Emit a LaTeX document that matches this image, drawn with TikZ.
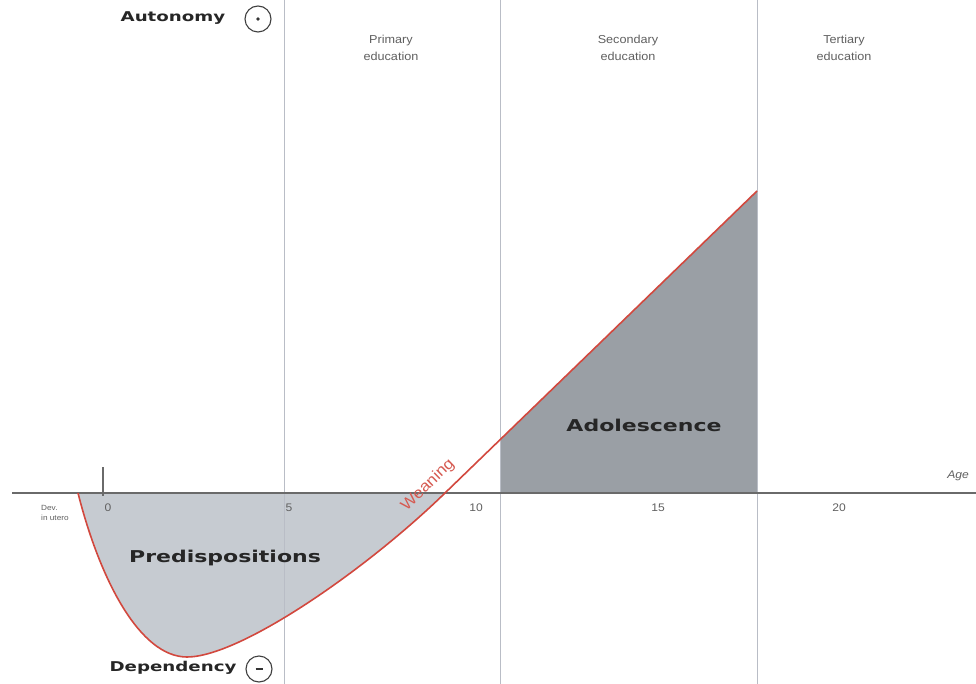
\documentclass[tikz,border=0pt]{standalone}
\usepackage{fontspec}
\setmainfont{Liberation Sans}
\newfontfamily\widefont[FakeStretch=1.35]{DejaVu Sans}
\newfontfamily\labfont[FakeStretch=1.1]{Liberation Sans}
\definecolor{axisgrey}{HTML}{6A6A6A}
\definecolor{vgrid}{HTML}{B9BDC6}
\definecolor{curvered}{HTML}{D2483E}
\definecolor{lightfill}{HTML}{C6CBD1}
\definecolor{darkfill}{HTML}{9A9FA5}
\definecolor{labgrey}{HTML}{606060}
\begin{document}
\begin{tikzpicture}[x=1pt,y=-1pt,
  bigwide/.style={font=\widefont\bfseries\fontsize{13.5}{15}\selectfont, text=black!85, inner sep=0pt},
  hugewide/.style={font=\widefont\bfseries\fontsize{16.3}{18}\selectfont, text=black!85, inner sep=0pt},
  stagelab/.style={font=\labfont\fontsize{11.5}{17}\selectfont, text=labgrey, align=center, inner sep=0pt},
  ticklab/.style={font=\labfont\fontsize{11}{12}\selectfont, text=labgrey, inner sep=0pt},
  signcirc/.style={circle, draw=black!75, line width=1.1pt, minimum size=26pt, inner sep=0pt},
  vline/.style={draw=vgrid, line width=0.9pt},
]
\useasboundingbox (0,0) rectangle (976,684);
\fill[white] (0,0) rectangle (976,684);

% coordinates of curve
\coordinate (cstart) at (78,493);
\coordinate (cmin) at (187,657);
\coordinate (ccross) at (445,493);
\coordinate (cedge) at (500,440);
\coordinate (ctop) at (757,191);
\coordinate (cfoot) at (757,493);
\coordinate (afoot) at (500,493);

% fills
\fill[lightfill] (cstart) .. controls (100,580) and (140,657) .. (cmin)
   .. controls (240,657) and (366,570) .. (ccross) -- cycle;
\fill[darkfill] (afoot) -- (cedge) -- (ctop) -- (cfoot) -- cycle;

% vertical grid lines
\coordinate (v1t) at (284,0); \coordinate (v1b) at (284,684);
\coordinate (v2t) at (500,0); \coordinate (v2b) at (500,684);
\coordinate (v3t) at (757,0); \coordinate (v3b) at (757,684);
\draw[vline] (v1t) -- (v1b);
\draw[vline] (v2t) -- (v2b);
\draw[vline] (v3t) -- (v3b);

% axis
\coordinate (axl) at (12,493);
\coordinate (axr) at (976,493);
\draw[axisgrey, line width=1.8pt] (axl) -- (axr);
\coordinate (tickt) at (103,467);
\coordinate (tickb) at (103,496);
\draw[axisgrey, line width=1.2pt] (tickt) -- (tickb);

% curve
\draw[curvered, line width=1.6pt] (cstart) .. controls (100,580) and (140,657) .. (cmin)
   .. controls (240,657) and (366,570) .. (ccross) -- (ctop);

% labels
\node[bigwide] (auto) at (173,18) {Autonomy};
\node[signcirc] (plus) at (258,19) {};
\fill[black!80] (plus.center) circle (1.8pt);
\node[bigwide] (dep) at (173,668) {Dependency};
\node[signcirc] (minus) at (259,669) {};
\draw[black!80, line width=1.3pt] ([xshift=-3.5pt]minus.center) -- ([xshift=3.5pt]minus.center);

\node[stagelab] (prim) at (391,48) {Primary\\education};
\node[stagelab] (sec) at (628,48) {Secondary\\education};
\node[stagelab] (ter) at (844,48) {Tertiary\\education};

\node[hugewide] (adol) at (644,425) {Adolescence};
\node[hugewide] (pred) at (225,558) {Predispositions};

\node[ticklab] (t0) at (108,508) {0};
\node[ticklab] (t5) at (289,508) {5};
\node[ticklab] (t10) at (476,508) {10};
\node[ticklab] (t15) at (658,508) {15};
\node[ticklab] (t20) at (839,508) {20};
\node[ticklab, font=\labfont\itshape\fontsize{11}{12}\selectfont] (age) at (958,476) {Age};
\node[font=\labfont\fontsize{7.5}{10}\selectfont, text=labgrey, align=left, inner sep=0pt, anchor=west] (utero) at (41,513) {Dev.\\in utero};

\node[font=\labfont\fontsize{15.5}{17}\selectfont, text=curvered!90, rotate=44, inner sep=0pt] (wean) at (428,485) {Weaning};
\end{tikzpicture}
\end{document}
